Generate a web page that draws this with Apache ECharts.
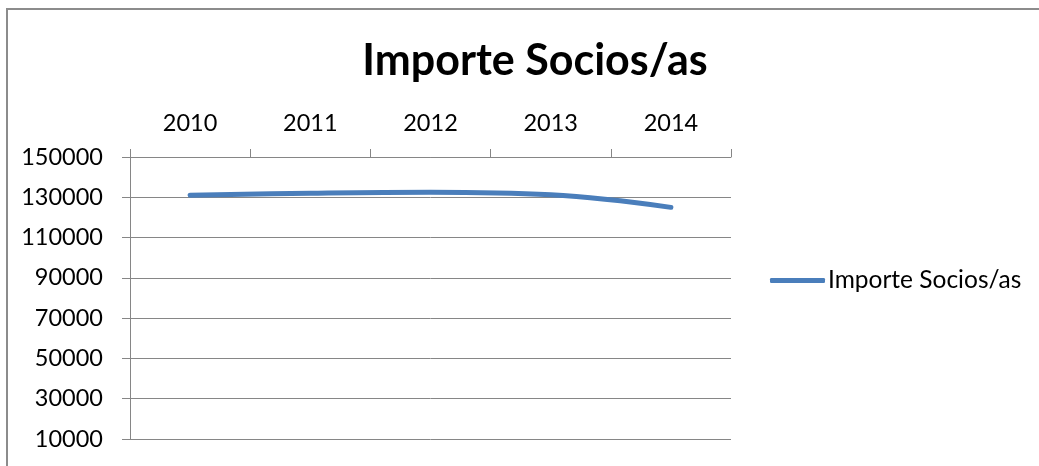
<!DOCTYPE html>
<html>
<head>
<meta charset="utf-8">
<script src="https://cdn.jsdelivr.net/npm/echarts@6/dist/echarts.min.js"></script>
<style>
  html, body { margin: 0; padding: 0; background: #fff; }
  #chart { width: 1039px; height: 466px; }
</style>
</head>
<body>
<div id="chart"></div>
<script>
// Yearly totals of member fees
const years = ['2010', '2011', '2012', '2013', '2014'];
const importeSocios = [131000, 132000, 132500, 131200, 125000];
const seriesName = 'Importe Socios/as';

const axisGray = '#868686';
const lineBlue = '#4A7EBB';
const font = 'Lato, "Open Sans", sans-serif';

const chart = echarts.init(document.getElementById('chart'), null, { renderer: 'canvas' });
chart.setOption({
  backgroundColor: '#ffffff',
  animation: false,
  title: {
    text: seriesName,
    left: 530,
    textAlign: 'center',
    top: 35,
    textStyle: { fontFamily: font, fontWeight: 'bold', fontSize: 43, color: '#000' }
  },
  graphic: [{
    type: 'rect',
    shape: { x: 7, y: 9, width: 1200, height: 700 },
    style: { fill: 'none', stroke: '#8c8c8c', lineWidth: 2 },
    silent: true
  }],
  legend: {
    orient: 'vertical',
    left: 765,
    top: 263,
    itemWidth: 55,
    itemHeight: 5,
    itemGap: 0,
    data: [{ name: seriesName, icon: 'roundRect', itemStyle: { color: lineBlue } }],
    textStyle: { fontFamily: font, fontSize: 24.5, color: '#000', padding: [0, 0, 0, -2] }
  },
  grid: { left: 130, right: 308, top: 157, bottom: 27, containLabel: false },
  xAxis: {
    type: 'category',
    position: 'top',
    data: years,
    boundaryGap: true,
    axisLine: { show: true, lineStyle: { color: axisGray, width: 1 } },
    axisTick: { show: true, length: 8, alignWithLabel: false, lineStyle: { color: axisGray } },
    axisLabel: { margin: 22, fontFamily: font, fontSize: 23.5, color: '#000' },
    splitLine: { show: false }
  },
  yAxis: {
    type: 'value',
    min: 10000,
    max: 150000,
    interval: 20000,
    axisLine: { show: true, lineStyle: { color: axisGray, width: 1 } },
    axisTick: { show: true, length: 8, lineStyle: { color: axisGray } },
    axisLabel: { margin: 27, fontFamily: font, fontSize: 23.5, color: '#000', formatter: v => String(v) },
    splitLine: { show: true, lineStyle: { color: axisGray, width: 1 } }
  },
  series: [{
    name: seriesName,
    type: 'line',
    data: importeSocios,
    smooth: 0.4,
    showSymbol: false,
    symbol: 'none',
    lineStyle: { color: lineBlue, width: 5, cap: 'round', join: 'round' },
    itemStyle: { color: lineBlue }
  }]
});
</script>
</body>
</html>
